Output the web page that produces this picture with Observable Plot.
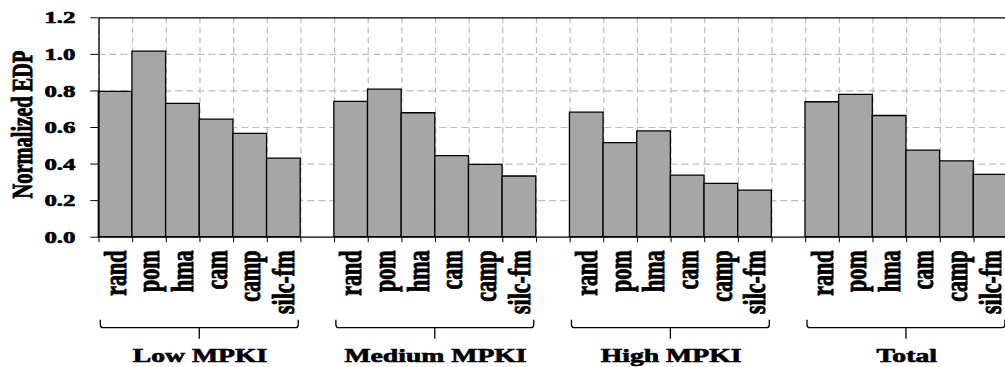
<!DOCTYPE html>
<html><head><meta charset="utf-8">
<script src="https://cdn.jsdelivr.net/npm/d3@7"></script>
<script src="https://cdn.jsdelivr.net/npm/@observablehq/plot@0.6"></script>
<style>
html,body{margin:0;padding:0;background:#fff;}
#chart svg *{vector-effect:non-scaling-stroke;}
#chart svg text{stroke:#000 !important;stroke-width:0.8px !important;}
</style></head><body><div id="chart"></div>
<script>
// ---- data ----
const groups = ["Low MPKI", "Medium MPKI", "High MPKI", "Total"];
const schemes = ["rand", "pom", "hma", "cam", "camp", "silc-fm"];
const lowMPKI = [0.795, 1.015, 0.729, 0.643, 0.565, 0.430];
const mediumMPKI = [0.740, 0.807, 0.678, 0.443, 0.396, 0.332];
const highMPKI = [0.681, 0.514, 0.579, 0.337, 0.292, 0.255];
const totalVals = [0.738, 0.778, 0.663, 0.474, 0.415, 0.341];
const yTicks = [0, 0.2, 0.4, 0.6, 0.8, 1.0, 1.2];
const yGridTicks = [0.2, 0.4, 0.6, 0.8, 1.0];
const yTitle = "Normalized EDP";

// ---- build table ----
const series = [lowMPKI, mediumMPKI, highMPKI, totalVals];
const per = schemes.length + 1; // one empty slot between groups
const rows = [];
series.forEach((vals, gi) => vals.forEach((v, si) =>
  rows.push({group: groups[gi], scheme: schemes[si], value: v, slot: gi * per + si})));
const nSlots = groups.length * per - 1;
const slotBounds = d3.range(nSlots + 1);
const groupInfo = groups.map((g, gi) => ({group: g, start: gi * per, end: gi * per + schemes.length, mid: gi * per + schemes.length / 2}));

const K = 1.42;            // horizontal stretch of the whole figure
const W = 1005 / K;
const font = "'Liberation Serif','Times New Roman',serif";

const brackets = (index, scales, values, dims) => {
  const g = d3.create("svg:g").attr("fill", "none").attr("stroke", "#000").attr("stroke-width", 1.3);
  const y0 = dims.height - dims.marginBottom;
  const yLine = y0 + 91, yEnd = y0 + 83, yTip = y0 + 102;
  const r = 3 / K;
  for (const d of groupInfo) {
    const x0 = scales.x(d.start + 0.06), x1 = scales.x(d.end - 0.06), xm = scales.x(d.mid);
    g.append("path").attr("d",
      `M${x0},${yEnd} L${x0},${yLine - 3} Q${x0},${yLine} ${x0 + r},${yLine} L${x1 - r},${yLine} Q${x1},${yLine} ${x1},${yLine - 3} L${x1},${yEnd} M${xm},${yLine} L${xm},${yTip}`);
  }
  return g.node();
};

const chart = Plot.plot({
  width: W,
  height: 367,
  marginLeft: 98.3 / K,
  marginRight: (1005 - 1006.9) / K,
  marginTop: 17.3,
  marginBottom: 130.3,
  style: {fontFamily: font, fontWeight: "bold", background: "#fff", color: "#000"},
  x: {domain: [0, nSlots], axis: null},
  y: {domain: [0, 1.2], axis: null},
  marks: [
    Plot.gridY(yGridTicks, {stroke: "#bdbdbd", strokeOpacity: 1, strokeWidth: 1.2, strokeDasharray: "7,4"}),
    Plot.gridX(slotBounds, {stroke: "#bdbdbd", strokeOpacity: 1, strokeWidth: 1.2, strokeDasharray: "6,4"}),
    Plot.rectY(rows, {x1: "slot", x2: d => d.slot + 1, y: "value", fill: "#a6a6a6", stroke: "#000", strokeWidth: 1.3}),
    Plot.frame({stroke: "#000", strokeWidth: 1.3}),
    Plot.axisY({ticks: yTicks, tickFormat: d3.format(".1f"), tickSize: 5.6, tickPadding: 11, fontSize: 17.5, label: null}),
    Plot.axisX({ticks: slotBounds, tickFormat: () => "", tickSize: 5.5, label: null}),
    Plot.text(rows, {x: d => d.slot + 0.5, text: "scheme", frameAnchor: "bottom", dy: 13.3, rotate: -90,
      textAnchor: "end", lineAnchor: "middle", fontSize: 22, fill: "#000"}),
    Plot.text(groupInfo, {x: "mid", text: "group", frameAnchor: "bottom", dy: 118.8,
      lineAnchor: "middle", textAnchor: "middle", fontSize: 19.5, fill: "#000"}),
    Plot.text([yTitle], {frameAnchor: "left", dx: -(98.3 - 22.5) / K, dy: -3, rotate: -90,
      textAnchor: "middle", lineAnchor: "middle", fontSize: 20.4, fill: "#000"}),
    brackets
  ]
});

chart.setAttribute("preserveAspectRatio", "none");
chart.setAttribute("width", 1005);
chart.setAttribute("height", 367);
chart.style.width = "1005px";
chart.style.height = "367px";
chart.style.maxWidth = "none";
document.getElementById("chart").appendChild(chart);
</script>
</body></html>
